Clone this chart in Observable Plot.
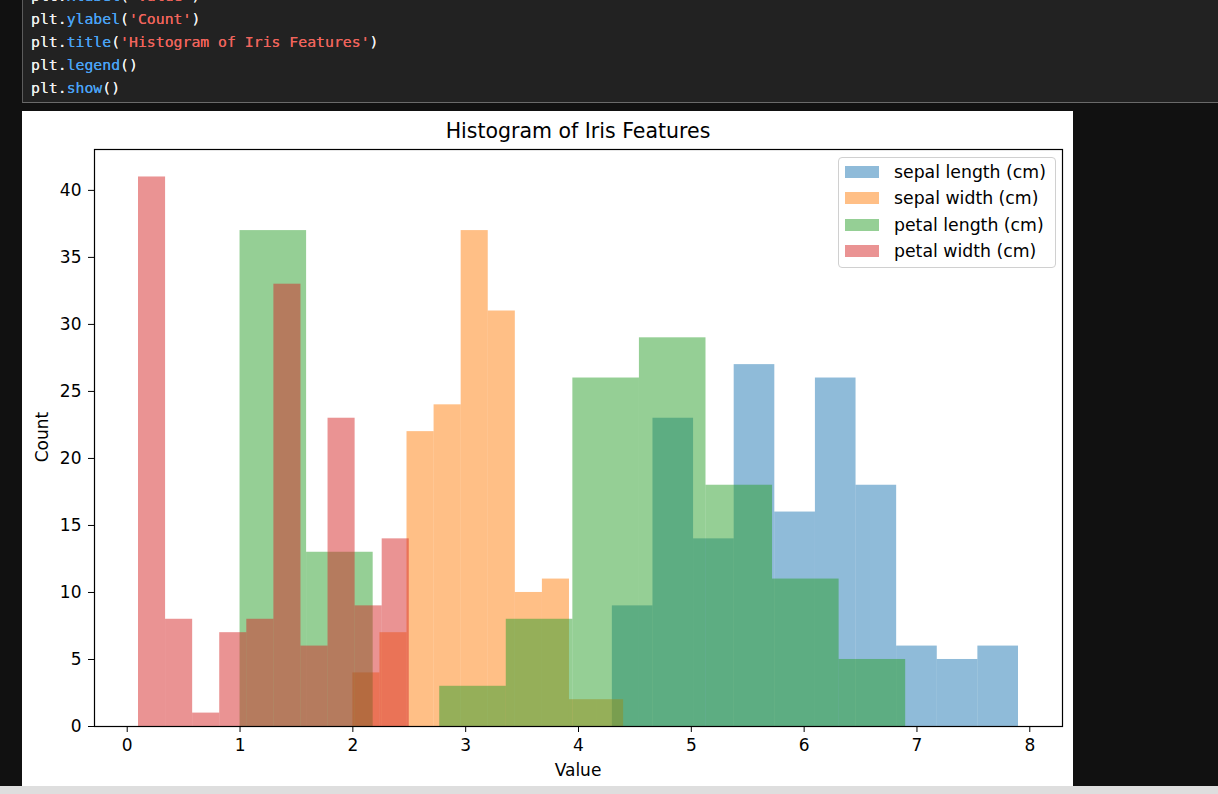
<!DOCTYPE html>
<html>
<head>
<meta charset="utf-8">
<script src="https://cdn.jsdelivr.net/npm/d3@7"></script>
<script src="https://cdn.jsdelivr.net/npm/@observablehq/plot@0.6"></script>
<style>
  html, body { margin: 0; padding: 0; }
  body { width: 1218px; height: 794px; background: #111111; position: relative; overflow: hidden; font-family: "DejaVu Sans", sans-serif; }
  #code { position: absolute; left: 22px; top: -12px; width: 1196px; height: 115px; background: #222222; border-left: 1px solid #5c5c5c; border-bottom: 1px solid #6a6a6a; box-sizing: border-box; }
  .ln { position: absolute; left: 8px; font-family: "DejaVu Sans Mono", "Liberation Mono", monospace; font-size: 14.8px; line-height: 23px; white-space: pre; color: #f0f0f0; text-shadow: 0 0 0.4px currentColor; }
  .fn { color: #4aa3f5; }
  .st { color: #f0645c; }
  .pa { color: #f0f0f0; }
  #fig { position: absolute; left: 22px; top: 111px; width: 1051px; height: 675px; background: #ffffff; }
  #title { position: absolute; left: 0; width: 1112px; top: 8px; text-align: center; font-size: 20.5px; color: #000; line-height: 24px; }
  #ylab { position: absolute; left: 20px; top: 326px; width: 0; height: 0; }
  #ylab span { position: absolute; transform: translate(-50%, -50%) rotate(-90deg); font-size: 17px; color: #000; white-space: nowrap; }
  #xlab { position: absolute; left: 0; width: 1112px; top: 649px; text-align: center; font-size: 17px; color: #000; line-height: 20px; }
  #chart { position: absolute; left: 0; top: 0; }
  #legend { position: absolute; left: 816px; top: 46px; width: 218px; height: 111px; background: rgba(255,255,255,0.8); border: 1px solid #d0d0d0; border-radius: 4px; box-sizing: border-box; }
  .lrow { position: absolute; left: 6px; height: 20px; }
  .lpatch { position: absolute; left: 0; top: 4px; width: 34px; height: 12px; }
  .ltext { position: absolute; left: 49px; top: 0; font-size: 17.3px; line-height: 20px; color: #000; white-space: nowrap; }
  #bottom { position: absolute; left: 0; top: 786px; width: 1218px; height: 8px; background: #dedede; }
</style>
</head>
<body>
<div id="code"></div>
<div id="fig">
  <div id="chart"></div>
  <div id="title"></div>
  <div id="ylab"><span>Count</span></div>
  <div id="xlab">Value</div>
  <div id="legend"></div>
</div>
<div id="bottom"></div>
<script>
// ---- data ----
const features = ["sepal length (cm)", "sepal width (cm)", "petal length (cm)", "petal width (cm)"];
const seriesColors = ["#1f77b4", "#ff7f0e", "#2ca02c", "#d62728"];

const sepalLengthEdges = [4.3, 4.66, 5.02, 5.38, 5.74, 6.1, 6.46, 6.82, 7.18, 7.54, 7.9];
const sepalLengthCounts = [9, 23, 14, 27, 16, 26, 18, 6, 5, 6];

const sepalWidthEdges = [2.0, 2.24, 2.48, 2.72, 2.96, 3.2, 3.44, 3.68, 3.92, 4.16, 4.4];
const sepalWidthCounts = [4, 7, 22, 24, 37, 31, 10, 11, 2, 2];

const petalLengthEdges = [1.0, 1.59, 2.18, 2.77, 3.36, 3.95, 4.54, 5.13, 5.72, 6.31, 6.9];
const petalLengthCounts = [37, 13, 0, 3, 8, 26, 29, 18, 11, 5];

const petalWidthEdges = [0.1, 0.34, 0.58, 0.82, 1.06, 1.3, 1.54, 1.78, 2.02, 2.26, 2.5];
const petalWidthCounts = [41, 8, 1, 7, 8, 33, 6, 23, 9, 14];

const xTicks = [0, 1, 2, 3, 4, 5, 6, 7, 8];
const yTicks = [0, 5, 10, 15, 20, 25, 30, 35, 40];

const titleText = "Histogram of Iris Features";
const xLabelText = "Value";
const yLabelText = "Count";

const codeLines = [
  [["plt.", ""], ["xlabel", "fn"], ["(", "pa"], ["'Value'", "st"], [")", "pa"]],
  [["plt.", ""], ["ylabel", "fn"], ["(", "pa"], ["'Count'", "st"], [")", "pa"]],
  [["plt.", ""], ["title", "fn"], ["(", "pa"], ["'Histogram of Iris Features'", "st"], [")", "pa"]],
  [["plt.", ""], ["legend", "fn"], ["()", "pa"]],
  [["plt.", ""], ["show", "fn"], ["()", "pa"]]
];

// ---- code cell ----
const code = document.getElementById("code");
codeLines.forEach((parts, i) => {
  const div = document.createElement("div");
  div.className = "ln";
  div.style.top = (-4 + i * 23) + "px";
  parts.forEach(([t, c]) => {
    const s = document.createElement("span");
    if (c) s.className = c;
    s.textContent = t;
    div.appendChild(s);
  });
  code.appendChild(div);
});

// ---- build rows ----
const allEdges = [sepalLengthEdges, sepalWidthEdges, petalLengthEdges, petalWidthEdges];
const allCounts = [sepalLengthCounts, sepalWidthCounts, petalLengthCounts, petalWidthCounts];
const rows = [];
features.forEach((f, k) => {
  allCounts[k].forEach((c, i) => {
    rows.push({feature: f, x1: allEdges[k][i], x2: allEdges[k][i + 1], count: c});
  });
});

const chart = Plot.plot({
  width: 1051,
  height: 675,
  marginLeft: 72,
  marginRight: 11,
  marginTop: 38,
  marginBottom: 60,
  style: {fontFamily: "'DejaVu Sans', sans-serif", fontSize: "17px", color: "#000", background: "transparent", overflow: "visible"},
  x: {domain: [-0.29, 8.29], label: null},
  y: {domain: [0, 43.05], label: null},
  color: {domain: features, range: seriesColors},
  marks: [
    Plot.rect(rows, {x1: "x1", x2: "x2", y1: 0, y2: "count", fill: "feature", fillOpacity: 0.5, inset: 0}),
    Plot.frame({stroke: "#000", strokeWidth: 1.2}),
    Plot.axisX({ticks: xTicks, tickSize: 6, tickPadding: 6, label: null, tickFormat: d => String(d), fontSize: 17}),
    Plot.axisY({ticks: yTicks, tickSize: 6, tickPadding: 7, label: null, tickFormat: d => String(d), fontSize: 17})
  ]
});
document.getElementById("chart").appendChild(chart);

document.getElementById("title").textContent = titleText;
document.getElementById("xlab").textContent = xLabelText;
document.querySelector("#ylab span").textContent = yLabelText;

// ---- legend ----
const legend = document.getElementById("legend");
features.forEach((f, i) => {
  const row = document.createElement("div");
  row.className = "lrow";
  row.style.top = (4 + i * 26.3) + "px";
  const p = document.createElement("div");
  p.className = "lpatch";
  p.style.background = seriesColors[i];
  p.style.opacity = 0.5;
  const t = document.createElement("div");
  t.className = "ltext";
  t.textContent = f;
  row.appendChild(p);
  row.appendChild(t);
  legend.appendChild(row);
});
</script>
</body>
</html>
